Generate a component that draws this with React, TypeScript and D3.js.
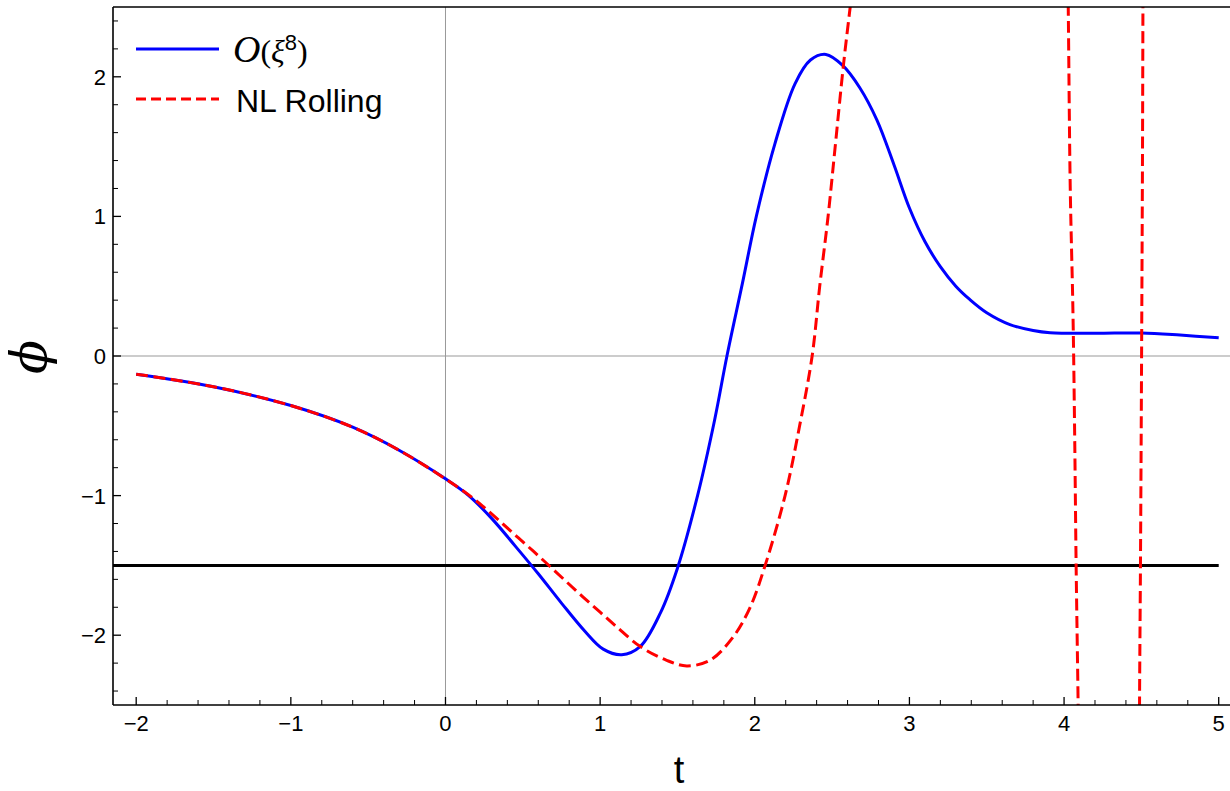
import React from "react";
import * as d3 from "d3";

// ---- data ----
const blueT = [-2, -1.5, -1, -0.6, -0.3, 0, 0.15, 0.3, 0.45, 0.6, 0.75, 0.9, 1.02, 1.14, 1.26, 1.39, 1.5, 1.63, 1.74, 1.82, 1.92, 2.01, 2.13, 2.26, 2.36, 2.46, 2.57, 2.68, 2.79, 2.9, 3.0, 3.1, 3.2, 3.3, 3.39, 3.5, 3.65, 3.8, 3.91, 4.2, 4.5, 4.75, 5.0];
const bluePhi = [-0.13, -0.22, -0.355, -0.51, -0.675, -0.88, -1.0, -1.165, -1.36, -1.56, -1.77, -1.97, -2.1, -2.14, -2.08, -1.84, -1.52, -1.0, -0.46, 0.0, 0.52, 1.0, 1.52, 1.95, 2.12, 2.16, 2.08, 1.92, 1.69, 1.37, 1.06, 0.82, 0.64, 0.5, 0.405, 0.31, 0.225, 0.183, 0.167, 0.163, 0.165, 0.15, 0.13];

const red1T = [-2, -1.5, -1, -0.6, -0.3, 0, 0.15, 0.245, 0.35, 0.46, 0.57, 0.676, 0.78, 0.89, 1.0, 1.107, 1.258, 1.43, 1.56, 1.71, 1.862, 1.97, 2.067, 2.196, 2.29, 2.371, 2.42, 2.474, 2.52, 2.573, 2.617, 2.66];
const red1Phi = [-0.13, -0.22, -0.355, -0.51, -0.675, -0.88, -0.995, -1.08, -1.182, -1.292, -1.4, -1.508, -1.615, -1.727, -1.835, -1.94, -2.08, -2.18, -2.22, -2.18, -2.01, -1.8, -1.5, -1.0, -0.5, 0.0, 0.5, 1.0, 1.5, 2.08, 2.5, 2.9];
const red2T = [4.022, 4.027, 4.04, 4.056, 4.062, 4.07, 4.078, 4.091, 4.095];
const red2Phi = [2.9, 2.5, 1.2, 0.4, 0.0, -0.7, -1.5, -2.5, -2.9];
const red3T = [4.4875, 4.488, 4.494, 4.499, 4.503, 4.507, 4.51, 4.511];
const red3Phi = [-2.9, -2.5, -1.5, -0.5, 0.4, 1.4, 2.5, 2.9];

const thresholdPhi = -1.5;
const thresholdT = [-2.15, 5.0];

const xMajor = [-2, -1, 0, 1, 2, 3, 4, 5];
const yMajor = [-2, -1, 0, 1, 2];

const W = 1230, H = 791;
const L = 113, R = 1230, T = 7, B = 705;

export default function App() {
  const x = d3.scaleLinear().domain([-2.15, 5.073]).range([L, R]);
  const y = d3.scaleLinear().domain([-2.5, 2.5]).range([B, T]);
  const line = d3.line<[number, number]>().x(d => x(d[0])).y(d => y(d[1])).curve(d3.curveCatmullRom.alpha(0.5));
  const zip = (a: number[], b: number[]) => a.map((v, i) => [v, b[i]] as [number, number]);

  const xMinor = d3.range(-2.0, 5.0001, 0.2).map(v => +v.toFixed(2)).filter(v => Math.abs(v - Math.round(v)) > 1e-6);
  const yMinor = d3.range(-2.4, 2.4001, 0.2).map(v => +v.toFixed(2)).filter(v => Math.abs(v - Math.round(v)) > 1e-6);
  const fmt = (v: number) => (v < 0 ? "\u2212" + Math.abs(v) : String(v));
  const dash = "12,5.5";

  return (
    <svg width={W} height={H} style={{ position: "absolute", left: 0, top: 0, background: "#fff" }} fontFamily="Liberation Sans, Arial, sans-serif">
      <defs>
        <clipPath id="plot"><rect x={L} y={T} width={R - L} height={B - T} /></clipPath>
      </defs>
      {/* axes lines at 0 */}
      <line x1={L} x2={R} y1={y(0)} y2={y(0)} stroke="#999" strokeWidth={1} />
      <line x1={x(0)} x2={x(0)} y1={T} y2={B} stroke="#999" strokeWidth={1} />
      <g clipPath="url(#plot)">
        <line x1={x(thresholdT[0])} x2={x(thresholdT[1])} y1={y(thresholdPhi)} y2={y(thresholdPhi)} stroke="#000" strokeWidth={3} />
        <path d={line(zip(blueT, bluePhi)) || ""} fill="none" stroke="#0000ff" strokeWidth={3} />
        <path d={line(zip(red1T, red1Phi)) || ""} fill="none" stroke="#ff0000" strokeWidth={3} strokeDasharray={dash} />
        <path d={line(zip(red2T, red2Phi)) || ""} fill="none" stroke="#ff0000" strokeWidth={3} strokeDasharray={dash} />
        <path d={line(zip(red3T, red3Phi)) || ""} fill="none" stroke="#ff0000" strokeWidth={3} strokeDasharray={dash} />
      </g>
      {/* frame */}
      <line x1={L} x2={R} y1={T} y2={T} stroke="#000" strokeWidth={1.6} />
      <line x1={L} x2={L} y1={T} y2={B} stroke="#000" strokeWidth={1.6} />
      <line x1={L} x2={R} y1={B} y2={B} stroke="#000" strokeWidth={1.6} />
      {/* x ticks */}
      {xMajor.map(v => (
        <g key={"xm" + v}>
          <line x1={x(v)} x2={x(v)} y1={B} y2={B - 8} stroke="#000" strokeWidth={1.3} />
          <text x={x(v)} y={731} fontSize={22} textAnchor="middle">{fmt(v)}</text>
        </g>
      ))}
      {xMinor.map(v => (
        <line key={"xn" + v} x1={x(v)} x2={x(v)} y1={B} y2={B - 5} stroke="#000" strokeWidth={1} />
      ))}
      {/* y ticks */}
      {yMajor.map(v => (
        <g key={"ym" + v}>
          <line x1={L} x2={L + 8} y1={y(v)} y2={y(v)} stroke="#000" strokeWidth={1.3} />
          <text x={106} y={y(v) + 8} fontSize={22} textAnchor="end">{fmt(v)}</text>
        </g>
      ))}
      {yMinor.map(v => (
        <line key={"yn" + v} x1={L} x2={L + 5} y1={y(v)} y2={y(v)} stroke="#000" strokeWidth={1} />
      ))}
      {/* axis labels */}
      <text x={679} y={783} fontSize={38} textAnchor="middle">t</text>
      <text transform="translate(46,357) rotate(-90)" fontSize={50} fontStyle="italic" fontFamily="DejaVu Serif, serif" textAnchor="middle">{"\u03D5"}</text>
      {/* legend */}
      <line x1={136} x2={219} y1={49} y2={49} stroke="#0000ff" strokeWidth={3} />
      <line x1={136} x2={219} y1={99} y2={99} stroke="#ff0000" strokeWidth={3} strokeDasharray="10,5" />
      <text x={233} y={62} fontSize={32} fontFamily="Liberation Serif, serif">
        <tspan fontStyle="italic" fontSize={38}>O</tspan>
        <tspan>(</tspan>
        <tspan fontStyle="italic">ξ</tspan>
        <tspan fontFamily="Liberation Sans, sans-serif" fontSize={22} dy={-12}>8</tspan>
        <tspan dy={12}>)</tspan>
      </text>
      <text x={236} y={112} fontSize={32}>NL Rolling</text>
    </svg>
  );
}
